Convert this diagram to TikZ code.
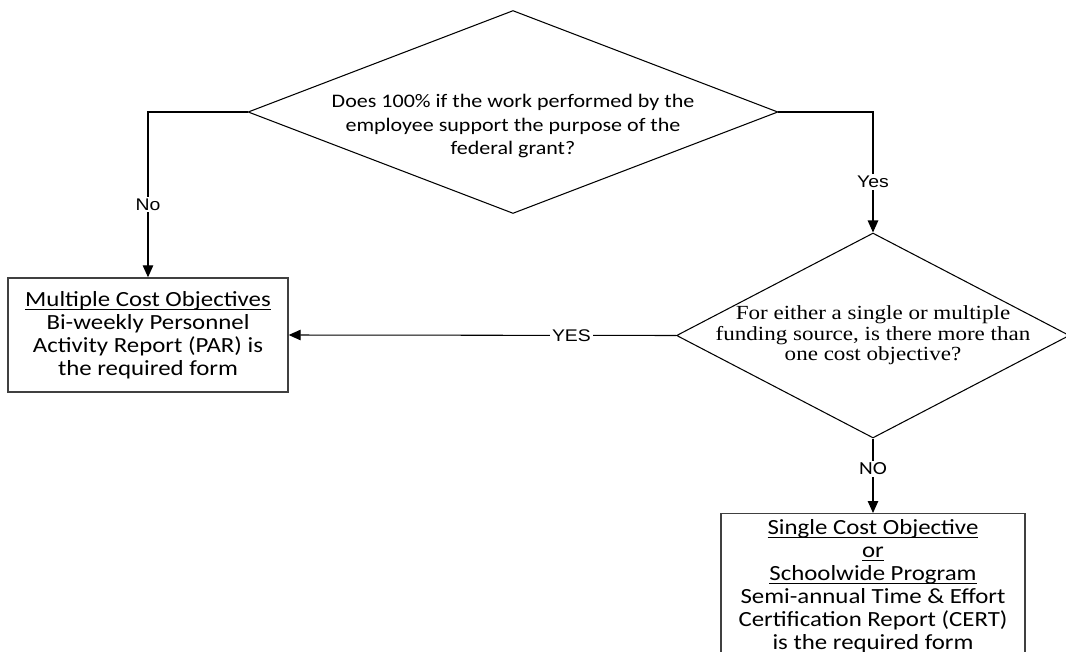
\documentclass[tikz,border=0pt]{standalone}
\usepackage{fontspec}
\setmainfont[FakeStretch=1.15]{Carlito}
\newfontfamily\serifq[FakeStretch=1.15]{Liberation Serif}
\newfontfamily\arialf[FakeStretch=1.15]{Liberation Sans}
\usetikzlibrary{positioning,arrows.meta,shapes.geometric}
\lineskiplimit=-8pt
\newcommand{\undl}[1]{\setbox0\hbox{#1}\rlap{\rule[-1.8pt]{\wd0}{0.5pt}}\box0}

\begin{document}
\begin{tikzpicture}[
  x=0.02cm, y=-0.02cm,
  font=\fontsize{10.9}{13.6}\selectfont, >={Triangle[length=2.4mm,width=2.1mm]},
  decision/.style={draw, diamond, inner sep=0pt, line width=0.6pt},
  formbox/.style={draw=black!75, align=center, inner sep=2pt, line width=0.8pt},
  formtext/.style={align=center, font=\fontsize{12.3}{13.1}\selectfont},
  link/.style={->, line width=0.6pt},
  lbl/.style={fill=white, inner sep=1pt, font=\arialf\fontsize{9.6}{11}\selectfont},
]
\useasboundingbox (0,0) rectangle (1066,652);
\node[decision, minimum width=10.6cm, minimum height=4.06cm,
  label={[align=center, yshift=-0.28cm]center:Does 100\% if the work performed by the\\employee support the purpose of the\\federal grant?}] (q1) at (513,112) {};
\node[decision, minimum width=7.86cm, minimum height=4.1cm,
  label={[align=center, font=\serifq\fontsize{11.4}{11.6}\selectfont]center:For either a single or multiple\\funding source, is there more than\\one cost objective?}] (q2) at (873,335.5) {};
\node[formbox, formtext, minimum width=5.6cm, minimum height=2.28cm] (multi) at (148,335)
  {\undl{Multiple Cost Objectives}\\Bi-weekly Personnel\\Activity Report (PAR) is\\the required form};
\node[formbox, formtext, anchor=north, minimum width=6.08cm, minimum height=2.9cm] (single) at (873,513)
  {\undl{Single Cost Objective}\\\undl{or}\\\undl{Schoolwide Program}\\Semi-annual Time \& Effort\\Certification Report (CERT)\\is the required form};
\draw[link] (q1.west) -| (multi.north) node[lbl, pos=0.78]{No};
\draw[link] (q1.east) -| (q2.north) node[lbl, pos=0.79]{Yes};
\draw[link] (q2.west) -- (multi.east) node[lbl, pos=0.27]{YES};
\draw[link] (q2.south) -- (single.north) node[lbl, pos=0.41, font=\fontsize{10.5}{12}\selectfont]{NO};
\end{tikzpicture}
\end{document}
